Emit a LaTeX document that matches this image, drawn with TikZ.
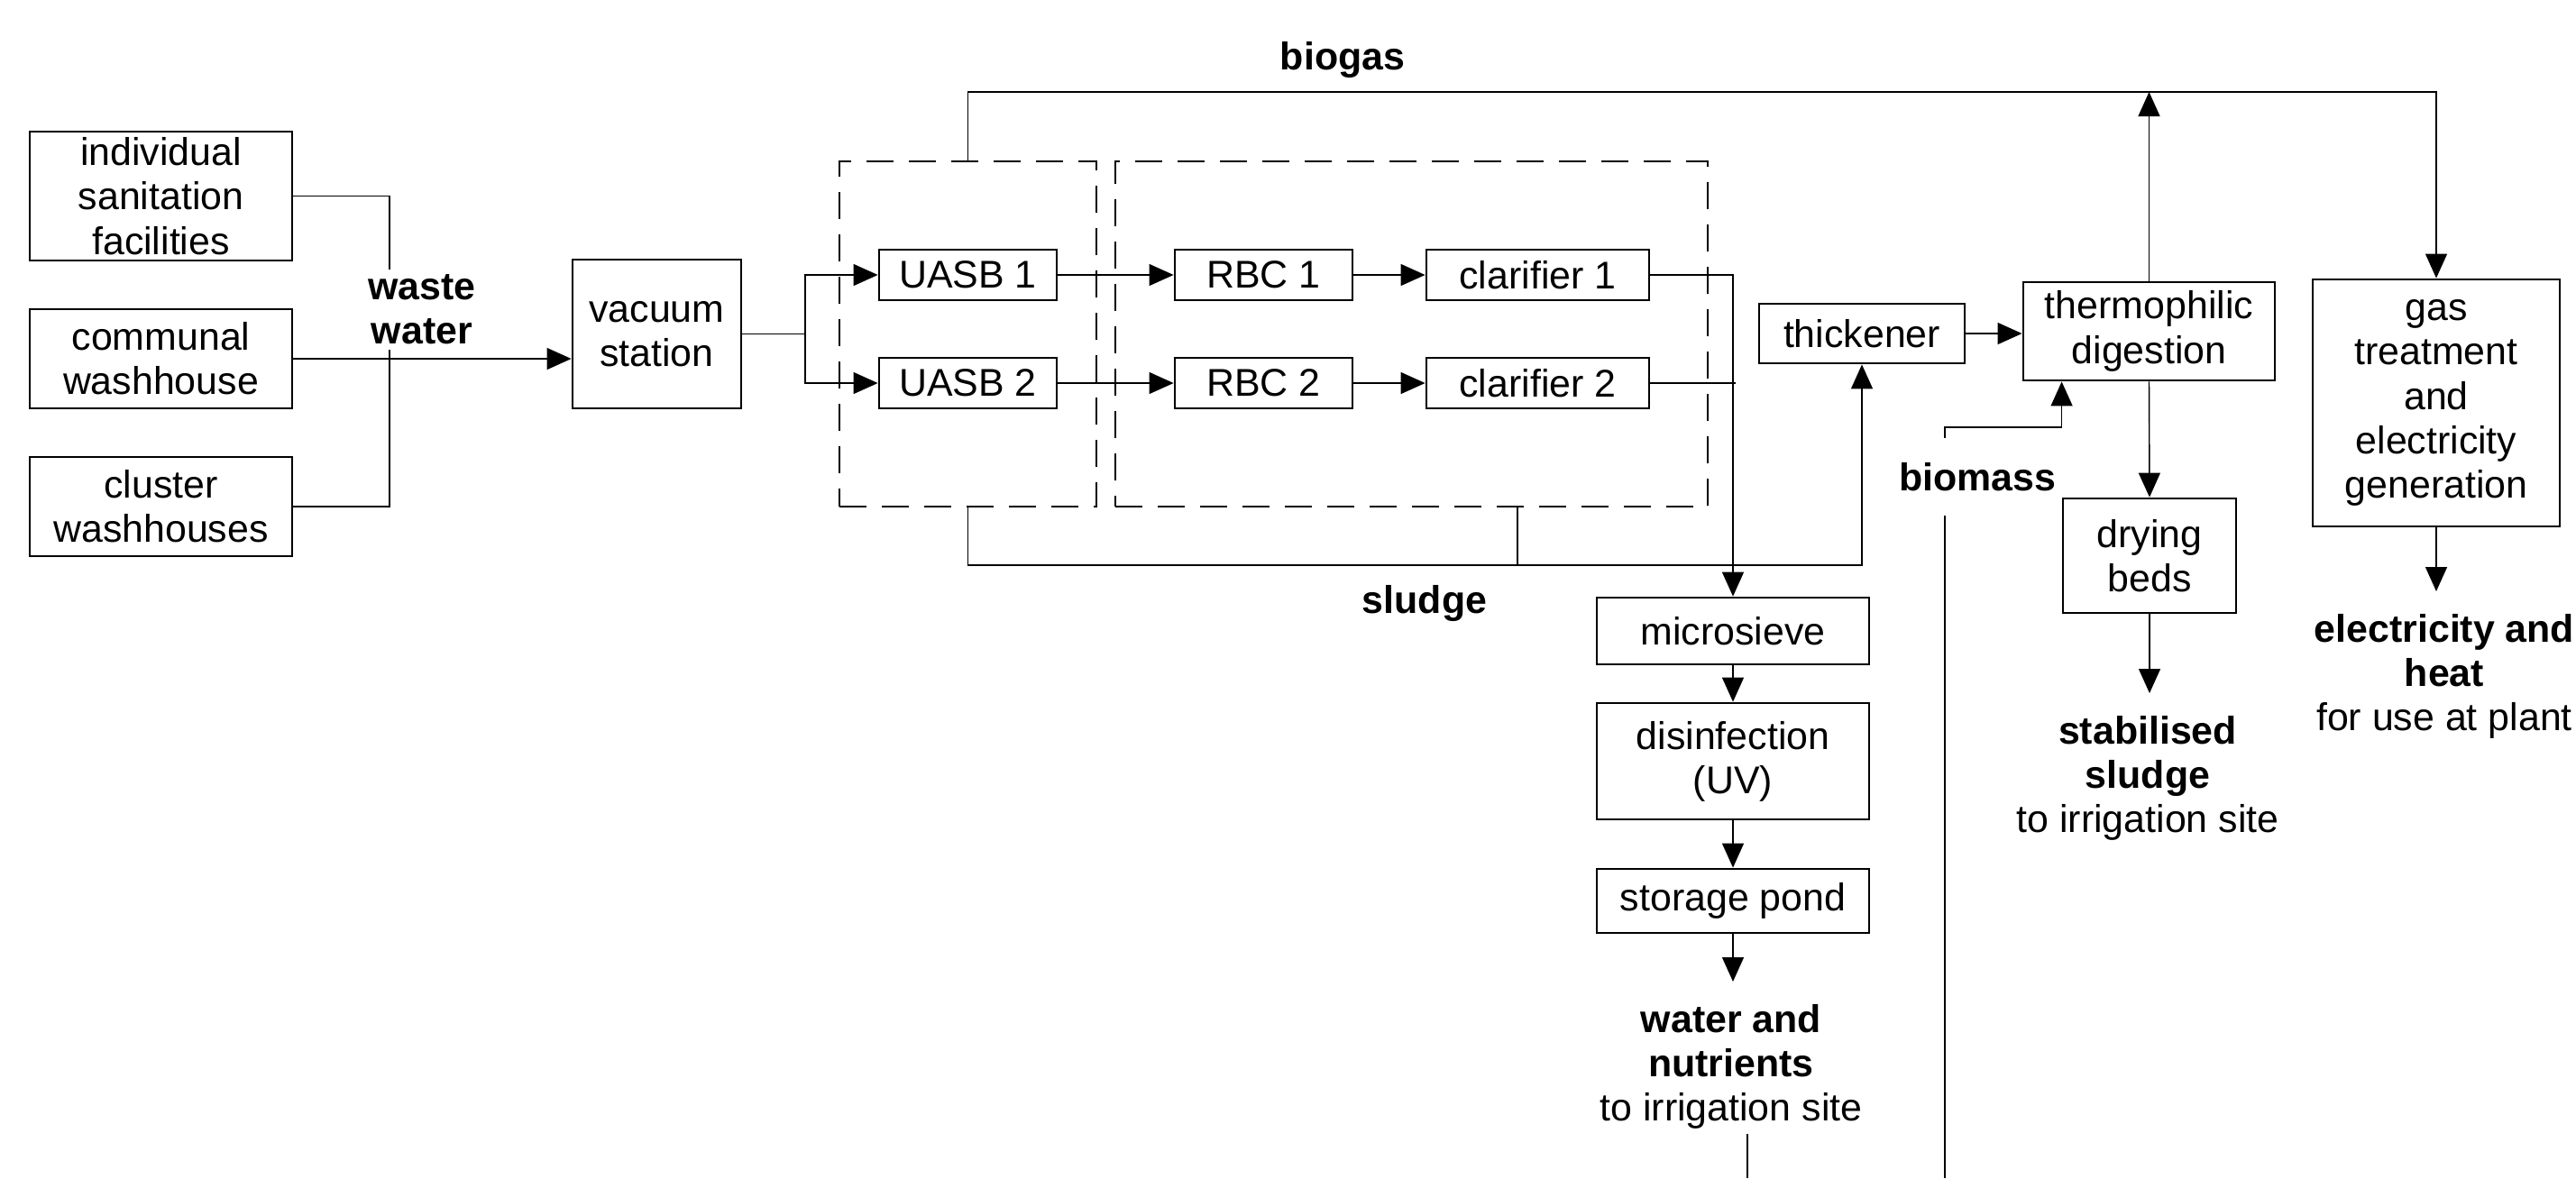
\documentclass[tikz,border=0pt]{standalone}
\usepackage{fontspec}
\setmainfont{Liberation Sans}
\usetikzlibrary{arrows.meta}
\pgfdeclarelayer{background}
\pgfdeclarelayer{foreground}
\pgfsetlayers{background,main,foreground}

\begin{document}
\begin{tikzpicture}[
  line width=0.8pt,
  >={Triangle[length=0.27cm,width=0.24cm]},
  every node/.style={font=\fontsize{12.2}{14}\selectfont, align=center, inner sep=0pt},
  proc/.style 2 args={draw, minimum width=#1cm, minimum height=#2cm},
  grp/.style={draw, dash pattern=on 0.3cm off 0.17cm},
  lbl/.style={font=\fontsize{12.2}{14}\selectfont\bfseries},
  gap/.style={fill=white},
  outlbl/.style={anchor=north, inner ysep=0.04cm},
  outarr/.style={->, shorten >=0.2cm}
]
\useasboundingbox (0,0) rectangle (28.57,-13.07);

% sources
\node[proc={2.91}{1.43}] (indiv) at (1.785,-2.175) {individual\\sanitation\\facilities};
\node[proc={2.91}{1.10}] (communal) at (1.785,-3.98) {communal\\washhouse};
\node[proc={2.91}{1.10}] (cluster) at (1.785,-5.62) {cluster\\washhouses};
\node[proc={1.87}{1.65}] (vacstat) at (7.285,-3.705) {vacuum\\station};

% treatment lines
\node[grp, minimum width=2.85cm, minimum height=3.83cm] (grp1) at (10.735,-3.705) {};
\node[grp, minimum width=6.57cm, minimum height=3.83cm] (grp2) at (15.655,-3.705) {};
\node[proc={1.97}{0.56}] (uasbA) at (10.735,-3.05) {UASB 1};
\node[proc={1.97}{0.56}] (uasbB) at (10.735,-4.25) {UASB 2};
\node[proc={1.97}{0.56}] (rbcA) at (14.015,-3.05) {RBC 1};
\node[proc={1.97}{0.56}] (rbcB) at (14.015,-4.25) {RBC 2};
\node[proc={2.47}{0.56}] (clarA) at (17.055,-3.05) {clarifier 1};
\node[proc={2.47}{0.56}] (clarB) at (17.055,-4.25) {clarifier 2};

% water line
\node[proc={3.02}{0.74}] (sieve) at (19.22,-7.00) {microsieve};
\node[proc={3.02}{1.29}] (disinf) at (19.22,-8.445) {disinfection\\(UV)};
\node[proc={3.02}{0.71}] (pond) at (19.22,-9.995) {storage pond};

% sludge and gas line
\node[proc={2.28}{0.66}] (thick) at (20.65,-3.70) {thickener};
\node[proc={2.79}{1.09}] (thermo) at (23.835,-3.675) {thermophilic\\digestion};
\node[proc={1.92}{1.27}] (drybed) at (23.84,-6.165) {drying\\beds};
\node[proc={2.74}{2.74}] (gastreat) at (27.02,-4.47) {gas\\treatment\\and\\electricity\\generation};

% products
\node[outlbl] (outwater) at (19.20,-11.09) {\textbf{water and}\\\textbf{nutrients}\\to irrigation site};
\node[outlbl] (outsludge) at (23.82,-7.89) {\textbf{stabilised}\\\textbf{sludge}\\to irrigation site};
\node[outlbl] (outpower) at (27.11,-6.76) {\textbf{electricity and}\\\textbf{heat}\\for use at plant};

\begin{pgfonlayer}{foreground}
\node[lbl] (lblbiogas) at (14.89,-0.67) {biogas};
\node[lbl, gap, inner ysep=0.06cm] (lblwaste) at (4.68,-3.435) {waste\\water};
\node[lbl] (lblsludge) at (15.80,-6.69) {sludge};
\node[lbl, gap, inner ysep=0.27cm] (lblbiomass) at (21.93,-5.29) {biomass};
\end{pgfonlayer}

\begin{pgfonlayer}{background}
% waste water
\coordinate (wj) at (4.32,-3.98);
\draw (indiv.east) -| (wj) |- (cluster.east);
\draw[->] (communal.east) -- (vacstat.west |- communal.east);
\coordinate (vj) at (8.93,-3.705);
\draw (vacstat.east) -- (vj);
\draw[->] (vj) |- (uasbA.west);
\draw[->] (vj) |- (uasbB.west);
\foreach \r in {A,B} {
  \draw[->] (uasb\r) -- (rbc\r);
  \draw[->] (rbc\r) -- (clar\r);
}
% effluent
\draw[->] (clarA.east) -| (sieve.north);
\draw (clarB.east) -- ([xshift=0.03cm]clarB.east -| sieve.north);
\draw[->] (sieve) -- (disinf);
\draw[->] (disinf) -- (pond);
\draw[outarr] (pond.south) -- (pond.south |- outwater.north);
\coordinate (wbot) at (19.38,-13.07);
\draw (wbot) -- (wbot |- outwater.south);
% biogas
\coordinate (gasline) at (0,-1.02);
\draw[->] (grp1.north) |- (gasline -| gastreat.north) -- (gastreat.north);
\draw[->] (thermo.north) -- (thermo.north |- gasline);
\draw[outarr] (gastreat.south) -- (gastreat.south |- outpower.north);
% sludge
\coordinate (sludgeline) at (0,-6.27);
\coordinate (grp2tap) at (16.83,-5.62);
\draw[->] (grp1.south) |- (sludgeline -| thick.south) -- (thick.south);
\draw (grp2tap) -- (grp2tap |- sludgeline);
\draw[->] (thick.east) -- (thick.east -| thermo.west);
\draw[->] (thermo.south) -- (drybed.north);
\draw[outarr] (drybed.south) -- (drybed.south |- outsludge.north);
% biomass
\coordinate (biobot) at (21.57,-13.07);
\coordinate (biobend) at (21.57,-4.74);
\draw[->] (biobot) -- (biobend) -| ([xshift=0.44cm]thermo.south west);
\end{pgfonlayer}
\end{tikzpicture}
\end{document}
